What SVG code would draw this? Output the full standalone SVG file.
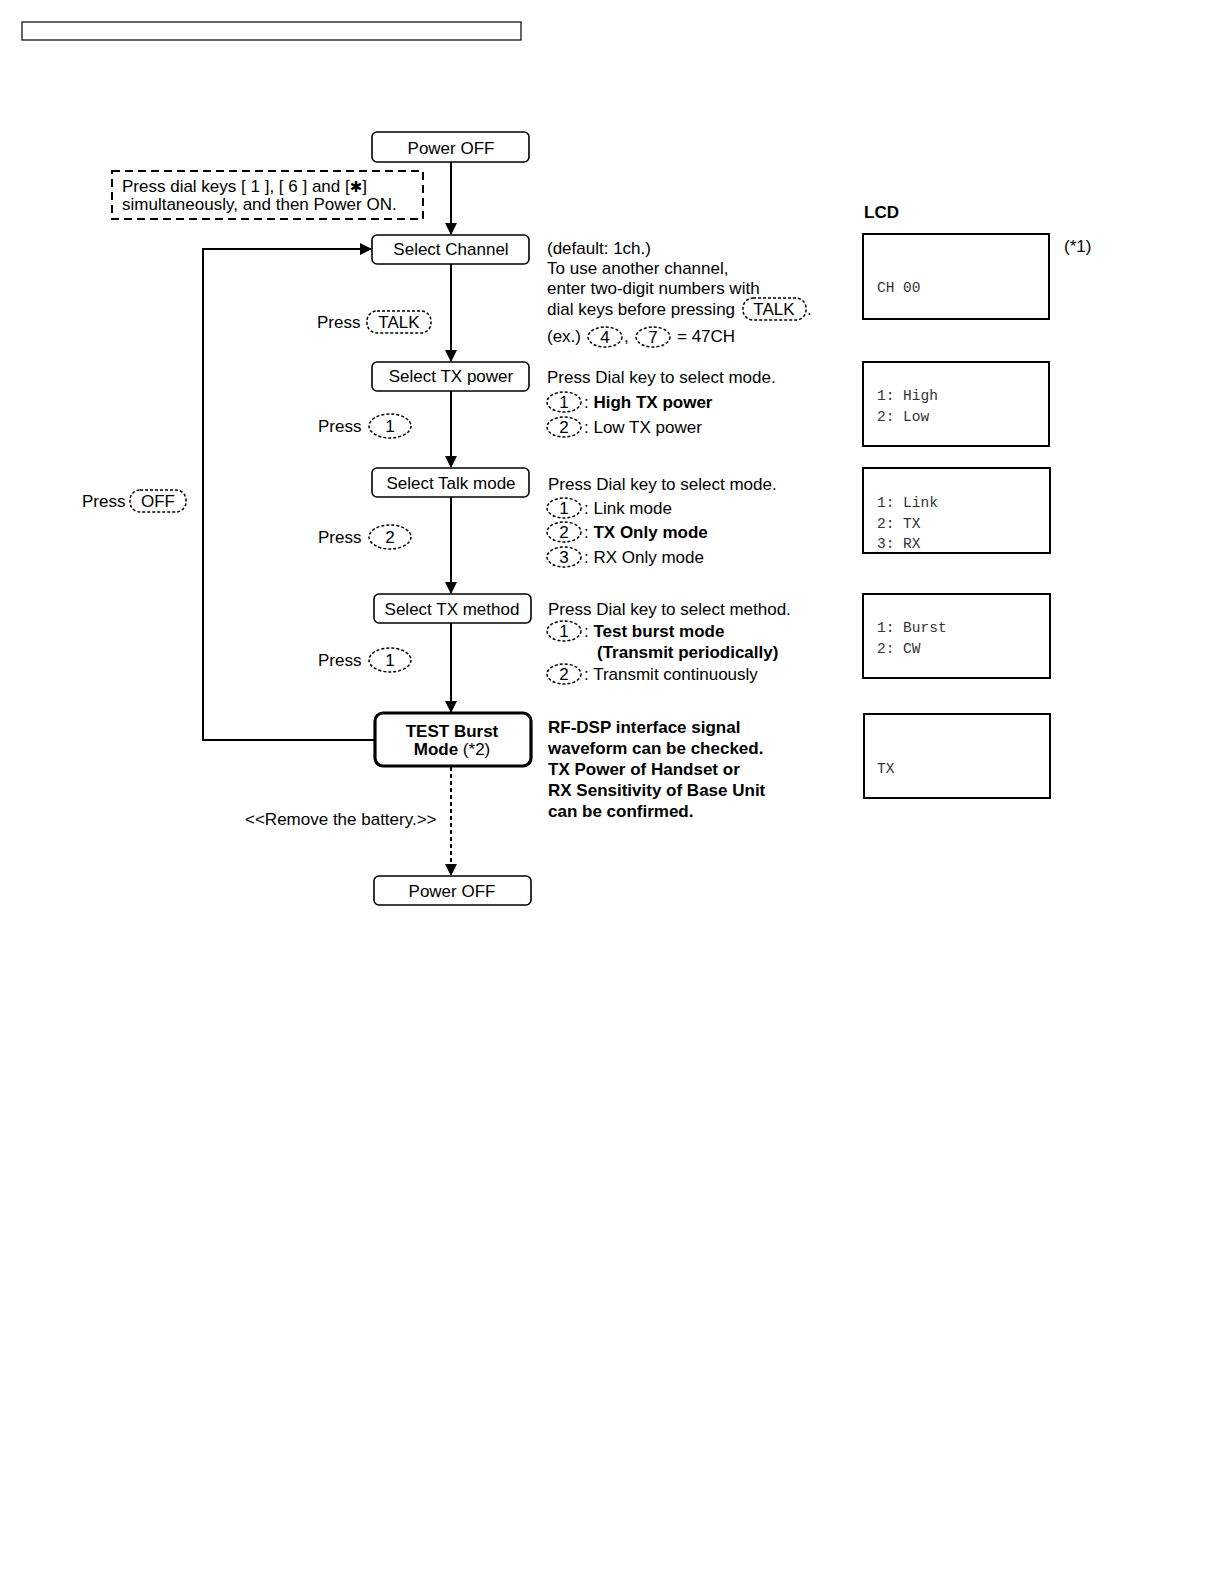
<svg xmlns="http://www.w3.org/2000/svg" width="1224" height="1584" viewBox="0 0 1224 1584">
<style>
text{font-family:"Liberation Sans",Arial,sans-serif;font-size:17px;fill:#000}
.c{text-anchor:middle}
.b{font-weight:bold}
.m{font-family:"Liberation Mono","Courier New",monospace;font-size:14.5px;fill:#333}
.node{fill:#fff;stroke:#000;stroke-width:1.6}
.thick{fill:#fff;stroke:#000;stroke-width:3.2}
.key{fill:none;stroke:#000;stroke-width:1.5;stroke-dasharray:3,2}
.lcd{fill:#fff;stroke:#000;stroke-width:2}
.ln{fill:none;stroke:#000;stroke-width:2}
</style>
<defs>
<marker id="ah" markerWidth="12" markerHeight="12" refX="11" refY="6" orient="auto" markerUnits="userSpaceOnUse">
<path d="M0,0 L12,6 L0,12 Z" fill="#000"/>
</marker>
</defs>
<rect x="22" y="22" width="499" height="18" fill="none" stroke="#000" stroke-width="1.2"/>

<g id="connectors">
<line class="ln" x1="451" y1="162" x2="451" y2="234" marker-end="url(#ah)"/>
<line class="ln" x1="451" y1="264" x2="451" y2="361" marker-end="url(#ah)"/>
<line class="ln" x1="451" y1="391" x2="451" y2="467" marker-end="url(#ah)"/>
<line class="ln" x1="451" y1="497" x2="451" y2="593" marker-end="url(#ah)"/>
<line class="ln" x1="451" y1="623" x2="451" y2="712" marker-end="url(#ah)"/>
<line class="ln" x1="451" y1="767" x2="451" y2="875" stroke-dasharray="4,3" marker-end="url(#ah)"/>
<polyline class="ln" points="375,740 203,740 203,249 371,249" marker-end="url(#ah)"/>
</g>

<g id="note">
<rect x="112" y="171" width="311" height="48" fill="none" stroke="#000" stroke-width="2" stroke-dasharray="8,5"/>
<text x="122" y="192">Press dial keys [ 1 ], [ 6 ] and [<tspan font-family="'DejaVu Sans',sans-serif" font-size="15">✱</tspan>]</text>
<text x="122" y="210">simultaneously, and then Power ON.</text>
</g>

<g id="n-poweroff1"><rect class="node" x="372" y="132" width="157" height="30" rx="5"/><text class="c" x="451" y="154">Power OFF</text></g>
<g id="n-channel"><rect class="node" x="372" y="235" width="157" height="29" rx="5"/><text class="c" x="451" y="255">Select Channel</text></g>
<g id="n-txpower"><rect class="node" x="372" y="362" width="157" height="29" rx="5"/><text class="c" x="451" y="382">Select TX power</text></g>
<g id="n-talkmode"><rect class="node" x="372" y="468" width="157" height="29" rx="5"/><text class="c" x="451" y="489">Select Talk mode</text></g>
<g id="n-txmethod"><rect class="node" x="374" y="594" width="157" height="29" rx="5"/><text class="c" x="452" y="615">Select TX method</text></g>
<g id="n-test"><rect class="thick" x="375" y="713" width="156" height="53" rx="8"/><text class="c b" x="452" y="737">TEST Burst</text><text class="c" x="452" y="755"><tspan class="b">Mode</tspan> (*2)</text></g>
<g id="n-poweroff2"><rect class="node" x="374" y="876" width="157" height="29" rx="5"/><text class="c" x="452" y="897">Power OFF</text></g>

<g id="labels">
<text x="317" y="328">Press</text>
<rect class="key" x="367" y="311" width="64" height="22" rx="10"/>
<text class="c" x="399" y="328">TALK</text>
<text x="318" y="432">Press</text>
<ellipse class="key" cx="390" cy="426" rx="21" ry="12"/>
<text class="c" x="390" y="432">1</text>
<text x="318" y="543">Press</text>
<ellipse class="key" cx="390" cy="537" rx="21" ry="12"/>
<text class="c" x="390" y="543">2</text>
<text x="318" y="666">Press</text>
<ellipse class="key" cx="390" cy="660" rx="21" ry="12"/>
<text class="c" x="390" y="666">1</text>
<text x="82" y="507">Press</text>
<rect class="key" x="130" y="490" width="56" height="22" rx="10"/>
<text class="c" x="158" y="507">OFF</text>
<text x="245" y="825">&lt;&lt;Remove the battery.&gt;&gt;</text>
</g>

<g id="desc-channel">
<text x="547" y="254">(default: 1ch.)</text>
<text x="547" y="274">To use another channel,</text>
<text x="547" y="294">enter two-digit numbers with</text>
<text x="547" y="315">dial keys before pressing</text>
<rect class="key" x="743" y="298" width="63" height="22" rx="10"/>
<text class="c" x="774" y="315">TALK</text>
<text x="807" y="315">.</text>
<text x="547" y="342">(ex.)</text>
<ellipse class="key" cx="605" cy="337" rx="17" ry="10"/>
<text class="c" x="605" y="343">4</text>
<text x="624" y="342">,</text>
<ellipse class="key" cx="653" cy="337" rx="17" ry="10"/>
<text class="c" x="653" y="343">7</text>
<text x="677" y="342">= 47CH</text>
</g>

<g id="desc-txpower">
<text x="547" y="383">Press Dial key to select mode.</text>
<ellipse class="key" cx="564" cy="402" rx="17" ry="10"/>
<text class="c" x="564" y="408">1</text>
<text x="584" y="408">: <tspan class="b">High TX power</tspan></text>
<ellipse class="key" cx="564" cy="427" rx="17" ry="10"/>
<text class="c" x="564" y="433">2</text>
<text x="584" y="433">: Low TX power</text>
</g>

<g id="desc-talk">
<text x="548" y="490">Press Dial key to select mode.</text>
<ellipse class="key" cx="564" cy="508" rx="17" ry="10"/>
<text class="c" x="564" y="514">1</text>
<text x="584" y="514">: Link mode</text>
<ellipse class="key" cx="564" cy="532" rx="17" ry="10"/>
<text class="c" x="564" y="538">2</text>
<text x="584" y="538">: <tspan class="b">TX Only mode</tspan></text>
<ellipse class="key" cx="564" cy="557" rx="17" ry="10"/>
<text class="c" x="564" y="563">3</text>
<text x="584" y="563">: RX Only mode</text>
</g>

<g id="desc-method">
<text x="548" y="615">Press Dial key to select method.</text>
<ellipse class="key" cx="564" cy="631" rx="17" ry="10"/>
<text class="c" x="564" y="637">1</text>
<text x="584" y="637">: <tspan class="b">Test burst mode</tspan></text>
<text class="b" x="597" y="658">(Transmit periodically)</text>
<ellipse class="key" cx="564" cy="674" rx="17" ry="10"/>
<text class="c" x="564" y="680">2</text>
<text x="584" y="680">: Transmit continuously</text>
</g>

<g id="desc-test">
<text class="b" x="548" y="733">RF-DSP interface signal</text>
<text class="b" x="548" y="754">waveform can be checked.</text>
<text class="b" x="548" y="775">TX Power of Handset or</text>
<text class="b" x="548" y="796">RX Sensitivity of Base Unit</text>
<text class="b" x="548" y="817">can be confirmed.</text>
</g>

<g id="lcd">
<text class="b" x="864" y="218">LCD</text>
<text x="1064" y="252">(*1)</text>
<rect class="lcd" x="863" y="234" width="186" height="85"/>
<text class="m" x="877" y="292">CH 00</text>
<rect class="lcd" x="863" y="362" width="186" height="84"/>
<text class="m" x="877" y="400">1: High</text>
<text class="m" x="877" y="421">2: Low</text>
<rect class="lcd" x="863" y="468" width="187" height="85"/>
<text class="m" x="877" y="507">1: Link</text>
<text class="m" x="877" y="528">2: TX</text>
<text class="m" x="877" y="548">3: RX</text>
<rect class="lcd" x="863" y="594" width="187" height="84"/>
<text class="m" x="877" y="632">1: Burst</text>
<text class="m" x="877" y="653">2: CW</text>
<rect class="lcd" x="864" y="714" width="186" height="84"/>
<text class="m" x="877" y="773">TX</text>
</g>
</svg>
